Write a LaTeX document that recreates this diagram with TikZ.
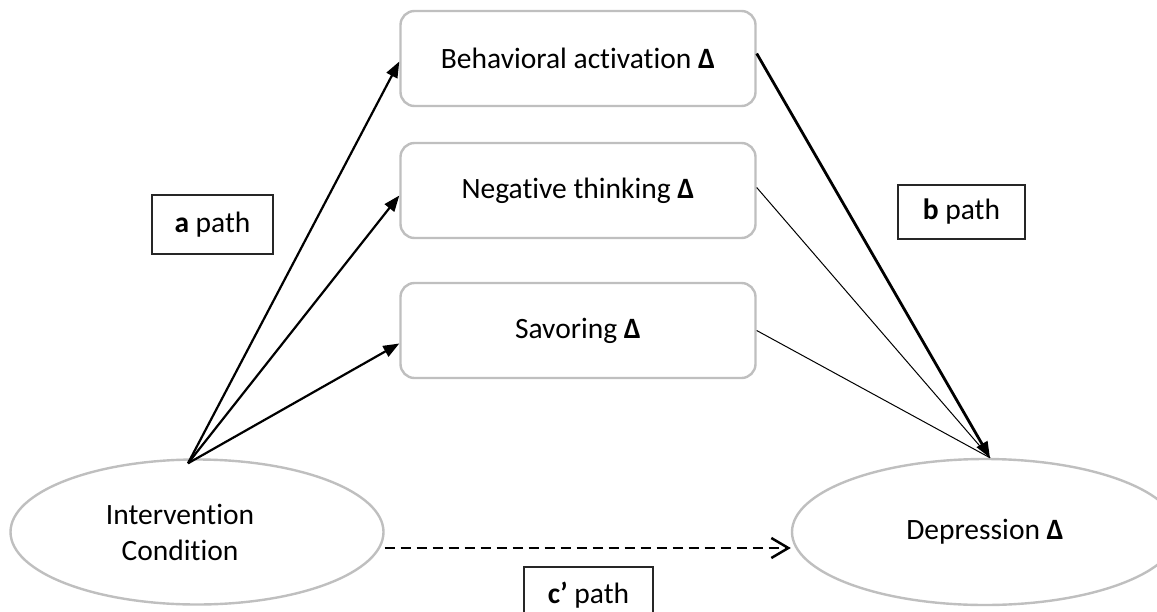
\documentclass[tikz,border=0pt]{standalone}
\usepackage{fontspec}
\setmainfont{Carlito}[Ligatures=NoCommon]
\usetikzlibrary{shapes.geometric,arrows.meta}

\begin{document}
\begin{tikzpicture}[x=1pt, y=-1pt, font=\fontsize{29.5}{36}\selectfont,
	mediator/.style={draw=gray!50, line width=2.4pt, rounded corners=14pt, fill=white,
		minimum width=355pt, minimum height=95pt},
	latent/.style={ellipse, draw=gray!50, line width=2.4pt, fill=white, inner sep=0pt},
	pathlabel/.style={draw=black!85, line width=1.6pt, inner sep=0pt},
	patharrow/.style={-{Triangle[length=16pt,width=12pt]}, line width=2.2pt}]

	\useasboundingbox (0,0) rectangle (1157,611);

	% mediators
	\node[mediator] (act) at (578, 58.5) {Behavioral activation \textbf{Δ}};
	\node[mediator] (neg) at (578,190.5) {Negative thinking \textbf{Δ}};
	\node[mediator] (sav) at (578,330.5) {Savoring \textbf{Δ}};

	% condition and outcome
	\node[latent, minimum width=373pt, minimum height=145pt,
		label={[align=center, xshift=-17pt]center:Intervention\\Condition}] (cond) at (197,532) {};
	\node[latent, minimum width=386pt, minimum height=146pt] (dep) at (985,532) {Depression \textbf{Δ}};

	% a paths
	\draw[patharrow] ([xshift=-9pt,yshift=-5pt]cond.north) -- ([yshift=-3pt]act.west);
	\draw[patharrow] ([xshift=-9pt,yshift=-5pt]cond.north) -- ([yshift=-5pt]neg.west);
	\draw[patharrow] ([xshift=-9pt,yshift=-5pt]cond.north) -- ([yshift=-13pt]sav.west);

	% b paths
	\draw[line width=1pt] ([yshift=3pt]neg.east) -- ([xshift=5pt]dep.north);
	\draw[line width=1pt] (sav.east) -- ([xshift=5pt]dep.north);
	\draw[patharrow, line width=2.8pt] ([yshift=5pt]act.east) -- ([xshift=5pt]dep.north);

	% c' path
	\draw[line width=2.5pt, dash pattern=on 10pt off 6pt, -{Straight Barb[length=17pt,width=20pt]}]
		([yshift=-16pt]cond.east) -- ([yshift=-16pt]dep.west);

	% labels
	\node[pathlabel, minimum width=121pt, minimum height=59pt] (apath) at (212.5,224.5) {\textbf{a} path};
	\node[pathlabel, minimum width=127pt, minimum height=54pt] (bpath) at (961.5,212) {\textbf{b} path};
	\node[pathlabel, minimum width=129pt, minimum height=56pt] (cpath) at (588.5,595) {\textbf{c’} path};

\end{tikzpicture}
\end{document}
